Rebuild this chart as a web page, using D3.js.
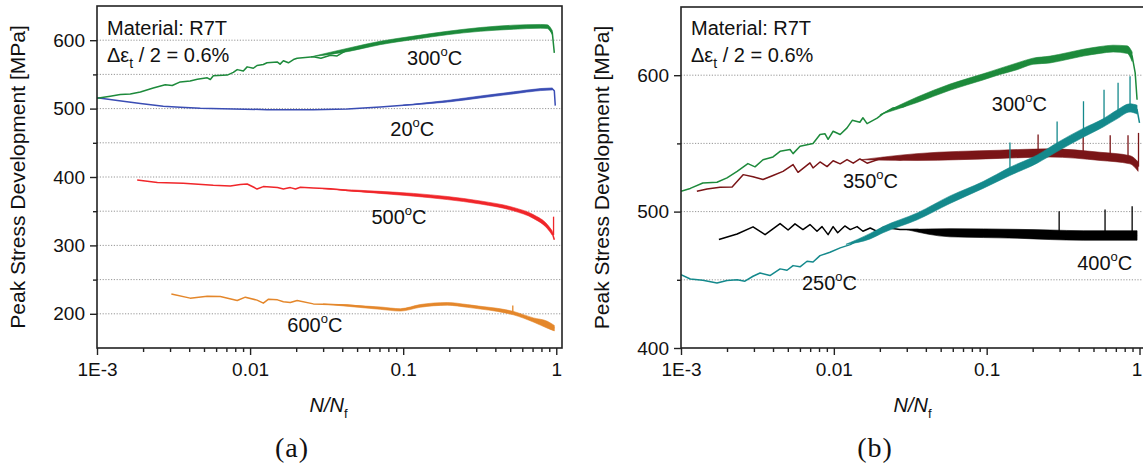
<!DOCTYPE html>
<html>
<head>
<meta charset="utf-8">
<script src="https://cdn.jsdelivr.net/npm/d3@7"></script>
<style>
body { margin: 0; background: #fff; }
svg { display: block; font-family: "Liberation Sans", Arial, sans-serif; }
</style>
</head>
<body>
<svg id="chart" width="1143" height="470"></svg>
<script>
// axis ticks
var xMajor = [0.001, 0.01, 0.1, 1];
var xMajorLabels = ["1E-3", "0.01", "0.1", "1"];
var xMinor = [0.002, 0.003, 0.004, 0.005, 0.006, 0.007, 0.008, 0.009,
    0.02, 0.03, 0.04, 0.05, 0.06, 0.07, 0.08, 0.09,
    0.2, 0.3, 0.4, 0.5, 0.6, 0.7, 0.8, 0.9];
var yMajorA = [200, 300, 400, 500, 600];
var yMinorA = [250, 350, 450, 550];
var yGridA = [200, 250, 300, 350, 400, 450, 500, 550, 600];
var yMajorB = [400, 500, 600];
var yMinorB = [450, 550];
var yGridB = [450, 500, 550, 600];

// (a) peak stress [N/Nf, MPa]; bands are [N/Nf, low, high] of the scatter
var a300 = [[0.00100, 515], [0.00122, 518], [0.00142, 520.5], [0.00165, 521.5], [0.00192, 524.4], [0.00233, 530],
    [0.00279, 535], [0.00310, 533.7], [0.00350, 539], [0.00406, 540.5], [0.00452, 543], [0.00525, 545],
    [0.00550, 542.5], [0.00575, 548], [0.00710, 549], [0.00777, 553], [0.00824, 557], [0.00903, 555],
    [0.00957, 561], [0.0105, 559], [0.0111, 563], [0.0122, 564.5], [0.0129, 567], [0.0151, 568], [0.0157, 565],
    [0.0165, 570], [0.0178, 567], [0.0192, 571.7], [0.0203, 573.6], [0.0259, 575.7], [0.029, 573.5], [0.0335, 578],
    [0.037, 577], [0.0432, 586], [0.0550, 590], [0.0708, 596], [0.117, 603.5], [0.194, 610.8], [0.319, 615.7],
    [0.525, 619], [0.787, 620.5], [0.875, 620], [0.942, 611], [0.971, 581.5]];
var a300Band = [[0.025, 575.7, 575.7], [0.045, 584, 589], [0.0708, 593.5, 598.5], [0.117, 601, 606],
    [0.194, 608, 613], [0.319, 613, 618.5], [0.525, 616, 622], [0.787, 617.5, 623], [0.875, 617, 622.5],
    [0.942, 608, 614]];

var a20 = [[0.00100, 515.7], [0.00136, 511.7], [0.00192, 507.3], [0.00271, 503.4], [0.00350, 502], [0.00473, 500.4],
    [0.00777, 499.5], [0.0129, 498.5], [0.0213, 498.5], [0.0259, 498.5], [0.0432, 499.5], [0.0708, 502.5],
    [0.117, 506], [0.194, 510.7], [0.319, 517], [0.525, 523], [0.787, 527.8], [0.942, 528.8], [0.971, 526],
    [0.985, 504.4]];
var a20Band = [[0.1, 505, 505], [0.194, 509.5, 512], [0.319, 515.5, 518.5], [0.525, 521.5, 524.5],
    [0.787, 526.3, 529.3], [0.942, 527.3, 530.3]];

var a500 = [[0.00183, 395.6], [0.00248, 392], [0.00366, 391], [0.00575, 388], [0.00743, 387], [0.00863, 389],
    [0.00957, 389.7], [0.0105, 385.4], [0.0111, 382.4], [0.0122, 386], [0.0151, 384.5], [0.0165, 382.4],
    [0.0183, 384.5], [0.0198, 382.5], [0.0213, 385], [0.0259, 383.9], [0.0335, 383], [0.0432, 380.4],
    [0.0708, 377.5], [0.117, 374], [0.194, 369.3], [0.319, 362.8], [0.525, 353.1], [0.708, 342.3],
    [0.875, 327.7], [0.942, 318], [0.971, 308.2]];
var a500Band = [[0.03, 383, 383], [0.0708, 376, 379], [0.117, 372, 376], [0.194, 367, 371.5], [0.319, 360.5, 365],
    [0.525, 350.5, 355.5], [0.708, 339.5, 345], [0.875, 324.5, 330.5], [0.942, 315, 321]];
var a500Spikes = [[0.96, 315, 342]];

var a600 = [[0.00306, 229.1], [0.00406, 222.9], [0.00525, 225.8], [0.00639, 225.3], [0.00824, 219.4],
    [0.00931, 224.3], [0.0111, 220], [0.0122, 215.6], [0.0132, 221.4], [0.0151, 220.4], [0.0165, 217.6],
    [0.0183, 216.5], [0.0203, 219.5], [0.0259, 214.5], [0.0432, 213], [0.0708, 208.2], [0.0958, 205.7],
    [0.129, 211.6], [0.194, 214.5], [0.262, 211.6], [0.319, 209.1], [0.412, 205.7], [0.525, 200.9],
    [0.708, 191.1], [0.875, 183.8], [0.971, 178.9]];
var a600Band = [[0.03, 214.3, 214.3], [0.0708, 206.5, 210], [0.0958, 204, 207.5], [0.129, 209.5, 213.5],
    [0.194, 212.5, 216.5], [0.262, 209.5, 213.5], [0.319, 207, 211], [0.412, 203.5, 208], [0.525, 198.5, 203.5],
    [0.708, 188, 194], [0.875, 179, 189], [0.971, 175, 183]];
var a600Spikes = [[0.52, 200, 212]];

// (b) peak stress [N/Nf, MPa]
var b300 = [[0.00100, 514.9], [0.00115, 517], [0.00139, 521], [0.00172, 521.5], [0.00200, 524.7], [0.00233, 529.5],
    [0.00274, 535.2], [0.00305, 532.8], [0.00344, 538], [0.00400, 540.1], [0.00445, 544.2], [0.00517, 545.5],
    [0.00541, 542.5], [0.00601, 547.9], [0.00731, 549.9], [0.00812, 556.5], [0.00876, 557], [0.00917, 553],
    [0.00989, 558.9], [0.0110, 556.5], [0.0122, 561.4], [0.0132, 566.9], [0.0148, 565.5], [0.0155, 568.8],
    [0.0165, 564.5], [0.0192, 568.5], [0.0210, 571.8], [0.0244, 576], [0.0284, 576.8], [0.0351, 582.1],
    [0.0446, 585.8], [0.0576, 591.4], [0.0745, 594.4], [0.0947, 598.8], [0.122, 602.9], [0.158, 606.5],
    [0.201, 610.2], [0.260, 611.4], [0.336, 613.9], [0.428, 616.4], [0.552, 618.3], [0.672, 619.3],
    [0.830, 618.8], [0.895, 613.9], [0.937, 601.7], [0.964, 582]];
var b300Band = [[0.02, 571, 571], [0.0351, 580, 584], [0.0576, 589, 593.5], [0.0947, 596.5, 601], [0.122, 600.5, 605],
    [0.158, 604, 609], [0.201, 608, 612.5], [0.26, 609, 614], [0.336, 611.5, 616.5], [0.428, 614, 619],
    [0.552, 616, 621], [0.672, 617, 622], [0.83, 616, 621.5], [0.895, 610, 617]];

var b350 = [[0.00127, 514.9], [0.00148, 516.5], [0.00180, 517.8], [0.00216, 518.1], [0.00255, 527.1],
    [0.00296, 525.5], [0.00344, 523.5], [0.00400, 526.5], [0.00465, 529.5], [0.00541, 534.5], [0.00583, 528.8],
    [0.00698, 535.7], [0.00731, 532], [0.00812, 536.4], [0.00903, 533], [0.00989, 537.3], [0.0110, 535],
    [0.0122, 538.1], [0.0134, 535.5], [0.0148, 538.6], [0.0165, 535.5], [0.0210, 539.4], [0.0271, 538],
    [0.0351, 540], [0.0576, 541], [0.122, 541.8], [0.260, 543], [0.552, 540.5], [0.867, 538.1], [0.979, 533]];
var b350Band = [[0.015, 538, 538], [0.035, 537.5, 542.5], [0.122, 539, 545], [0.26, 540, 546], [0.552, 537.5, 543.5],
    [0.867, 535, 541], [0.979, 529.5, 536.5]];
var b350Spikes = [[0.217, 543, 556.5], [0.428, 541, 556.5], [0.643, 540, 556], [0.841, 538, 556], [0.985, 533, 557.7]];

var b400 = [[0.00177, 479.5], [0.00233, 483.6], [0.00296, 488.8], [0.00355, 483.1], [0.00445, 491.2],
    [0.00502, 486.5], [0.00557, 491], [0.00628, 486.8], [0.00698, 490.5], [0.00776, 485.6], [0.00837, 489],
    [0.00917, 483.1], [0.00989, 489], [0.0106, 484.5], [0.0118, 489.5], [0.0128, 486.8], [0.0142, 489],
    [0.0155, 485.6], [0.0173, 488], [0.0192, 485.5], [0.0210, 488.5], [0.0271, 486.8], [0.0351, 486.8],
    [0.0446, 485.6], [0.0576, 484.4], [0.0947, 484.4], [0.158, 483.6], [0.260, 483], [0.428, 482.5],
    [0.713, 482.5], [0.964, 482.5]];
var b400Band = [[0.03, 486.8, 486.8], [0.0576, 481.5, 487.5], [0.158, 480.5, 487], [0.26, 479.5, 486.5],
    [0.428, 479, 486], [0.713, 479, 486], [0.964, 479, 486]];
var b400Spikes = [[0.298, 483, 500.2], [0.595, 482, 501.5], [0.895, 482, 503.9]];

var b250 = [[0.00100, 453.8], [0.00115, 450.6], [0.00139, 449.6], [0.00172, 447.7], [0.00200, 449.5],
    [0.00233, 450.1], [0.00262, 449], [0.00296, 452.6], [0.00329, 455], [0.00382, 453.1], [0.00445, 458],
    [0.00494, 457], [0.00541, 460.4], [0.00601, 459.5], [0.00668, 463.6], [0.00731, 463], [0.00812, 467.7],
    [0.00944, 470.2], [0.0110, 473.4], [0.0128, 475.8], [0.0148, 479.5], [0.0173, 481.9], [0.0210, 486.8],
    [0.0351, 496.6], [0.0576, 508.8], [0.0947, 519.5], [0.142, 529.5], [0.214, 538.6], [0.289, 547.2],
    [0.428, 557.7], [0.578, 565], [0.713, 571.1], [0.867, 576], [0.964, 574.8], [1.0, 565]];
var b250Band = [[0.012, 476, 476], [0.0173, 480, 484], [0.021, 484.5, 489], [0.0351, 494, 499], [0.0576, 506, 511.5],
    [0.0947, 517, 522], [0.142, 526.5, 532.5], [0.214, 535.5, 541.5], [0.289, 544, 550.5], [0.428, 554.5, 561],
    [0.578, 562, 568], [0.713, 568, 574.5], [0.867, 573, 579], [0.964, 571.5, 578]];
var b250Spikes = [[0.142, 530, 550.6], [0.289, 547, 566], [0.43, 557, 580.9], [0.586, 565, 589.4],
    [0.724, 571, 594.4], [0.867, 576, 599.2]];

var svg = d3.select("#chart");
var ink = "#222";

// draws one of the two log-x panels
function drawPanel(p) {
    var x = d3.scaleLog().domain(p.xDomain).range([p.left, p.right]);
    var y = d3.scaleLinear().domain(p.yDomain).range([p.bottom, p.top]);
    var g = svg.append("g");

    // dotted grid
    g.selectAll(".grid").data(p.grid).enter().append("line")
        .attr("x1", p.left).attr("x2", p.right)
        .attr("y1", function (d) { return y(d); })
        .attr("y2", function (d) { return y(d); })
        .attr("stroke", "#8a8a8a")
        .attr("stroke-width", 0.9)
        .attr("stroke-dasharray", "1.2,1.6");

    var clipId = "clip" + p.name;
    svg.append("clipPath").attr("id", clipId).append("rect")
        .attr("x", p.left).attr("y", p.top)
        .attr("width", p.right - p.left).attr("height", p.bottom - p.top);
    var plot = g.append("g").attr("clip-path", "url(#" + clipId + ")");

    var line = d3.line()
        .x(function (d) { return x(d[0]); })
        .y(function (d) { return y(d[1]); });
    var band = d3.area()
        .curve(d3.curveMonotoneX)
        .x(function (d) { return x(d[0]); })
        .y0(function (d) { return y(d[1]); })
        .y1(function (d) { return y(d[2]); });

    p.series.forEach(function (s) {
        if (s.band) {
            plot.append("path").datum(s.band)
                .attr("d", band)
                .attr("fill", s.color)
                .attr("stroke", s.color)
                .attr("stroke-width", 0.6);
        }
        plot.append("path").datum(s.pts)
            .attr("d", line)
            .attr("fill", "none")
            .attr("stroke", s.color)
            .attr("stroke-width", 1.5)
            .attr("stroke-linejoin", "round");
        if (s.spikes) {
            plot.selectAll(null).data(s.spikes).enter().append("line")
                .attr("x1", function (d) { return x(d[0]); })
                .attr("x2", function (d) { return x(d[0]); })
                .attr("y1", function (d) { return y(d[1]); })
                .attr("y2", function (d) { return y(d[2]); })
                .attr("stroke", s.color)
                .attr("stroke-width", 1.3);
        }
    });

    // x axis, major and minor ticks
    var xAxis = g.append("g").attr("transform", "translate(0," + p.bottom + ")")
        .call(d3.axisBottom(x).tickValues(xMajor).tickSize(7).tickPadding(8)
            .tickFormat(function (d, i) { return xMajorLabels[i]; }));
    var xMinorAxis = g.append("g").attr("transform", "translate(0," + p.bottom + ")")
        .call(d3.axisBottom(x).tickValues(xMinor).tickSize(4).tickFormat(""));

    // y axis, major and minor ticks
    var yAxis = g.append("g").attr("transform", "translate(" + p.left + ",0)")
        .call(d3.axisLeft(y).tickValues(p.yMajor).tickSize(7).tickPadding(5));
    var yMinorAxis = g.append("g").attr("transform", "translate(" + p.left + ",0)")
        .call(d3.axisLeft(y).tickValues(p.yMinor).tickSize(4).tickFormat(""));

    [xAxis, xMinorAxis, yAxis, yMinorAxis].forEach(function (a) {
        a.select(".domain").remove();
        a.selectAll("line").attr("stroke", ink).attr("stroke-width", 1.4);
        a.selectAll("text").attr("fill", "#111").style("font-size", "19px")
            .style("font-family", "'Liberation Sans', Arial, sans-serif");
    });
    // keep the last label inside the picture
    xAxis.selectAll("text").filter(function (d) { return d === 1; }).attr("dx", p.lastLabelDx);

    // frame
    g.append("rect")
        .attr("x", p.left).attr("y", p.top)
        .attr("width", p.frameRight - p.left).attr("height", p.bottom - p.top)
        .attr("fill", "none")
        .attr("stroke", ink)
        .attr("stroke-width", 1.6);

    // material notes
    g.append("text").attr("x", p.left + 10).attr("y", 35)
        .style("font-size", "20px").attr("fill", "#111")
        .text("Material: R7T");
    var note = g.append("text").attr("x", p.left + 10).attr("y", 62)
        .style("font-size", "20px").attr("fill", "#111");
    note.append("tspan").text("Δε");
    note.append("tspan").attr("dy", 6).style("font-size", "14px").text("t");
    note.append("tspan").attr("dy", -6).text(" / 2 = 0.6%");

    // temperature labels
    p.labels.forEach(function (l) {
        var t = g.append("text").attr("x", x(l.n)).attr("y", y(l.s))
            .style("font-size", "20px").attr("fill", "#111");
        t.append("tspan").text(l.t);
        t.append("tspan").attr("dy", -9).style("font-size", "13px").text("o");
        t.append("tspan").attr("dy", 9).text("C");
    });

    // axis titles
    g.append("text")
        .attr("transform", "translate(" + (p.left - 72) + "," + ((p.top + p.bottom) / 2) + ") rotate(-90)")
        .attr("text-anchor", "middle")
        .style("font-size", "21px").attr("fill", "#111")
        .text("Peak Stress Development [MPa]");
    var xt = g.append("text")
        .attr("x", (p.left + p.frameRight) / 2 - 20).attr("y", 412)
        .style("font-size", "20px").attr("fill", "#111");
    xt.append("tspan").style("font-style", "italic").text("N/N");
    xt.append("tspan").attr("dy", 6).style("font-size", "13px").text("f");

    g.append("text")
        .attr("x", p.captionX).attr("y", 457)
        .attr("text-anchor", "middle")
        .style("font-family", "'Liberation Serif', 'DejaVu Serif', serif")
        .style("font-size", "28px")
        .style("letter-spacing", "1px")
        .attr("fill", "#111")
        .text(p.caption);
}

drawPanel({
    name: "A", left: 97, right: 562, frameRight: 562, top: 6, bottom: 348,
    xDomain: [0.001, 1.09], yDomain: [150, 650],
    yMajor: yMajorA, yMinor: yMinorA, grid: yGridA,
    caption: "(a)", captionX: 292, lastLabelDx: 0,
    series: [
        { pts: a20, band: a20Band, color: "#3a4db4" },
        { pts: a300, band: a300Band, color: "#1d8a3b" },
        { pts: a500, band: a500Band, spikes: a500Spikes, color: "#f0262a" },
        { pts: a600, band: a600Band, spikes: a600Spikes, color: "#e4872b" }
    ],
    labels: [
        { t: "300", n: 0.106, s: 564.4 },
        { t: "20", n: 0.0824, s: 459.4 },
        { t: "500", n: 0.062, s: 331.2 },
        { t: "600", n: 0.0175, s: 174 }
    ]
});

drawPanel({
    name: "B", left: 681, right: 1144, frameRight: 1146, top: 7, bottom: 348,
    xDomain: [0.001, 1.07], yDomain: [400, 650],
    yMajor: yMajorB, yMinor: yMinorB, grid: yGridB,
    caption: "(b)", captionX: 875, lastLabelDx: -3,
    series: [
        { pts: b300, band: b300Band, color: "#1d8a3b" },
        { pts: b350, band: b350Band, spikes: b350Spikes, color: "#7a1517" },
        { pts: b400, band: b400Band, spikes: b400Spikes, color: "#000000" },
        { pts: b250, band: b250Band, spikes: b250Spikes, color: "#14898c" }
    ],
    labels: [
        { t: "300", n: 0.108, s: 573.5 },
        { t: "350", n: 0.01148, s: 517.6 },
        { t: "250", n: 0.00619, s: 442.8 },
        { t: "400", n: 0.391, s: 457.5 }
    ]
});
</script>
</body>
</html>
